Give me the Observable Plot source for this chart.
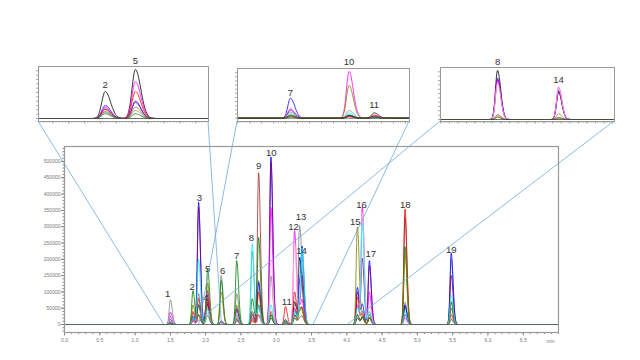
<!DOCTYPE html>
<html><head><meta charset="utf-8">
<script src="https://cdn.jsdelivr.net/npm/d3@7"></script>
<script src="https://cdn.jsdelivr.net/npm/@observablehq/plot@0.6"></script>
<style>
html,body{margin:0;padding:0;background:#fff;}
#wrap{position:relative;width:640px;height:360px;overflow:hidden;background:#fff;font-family:"Liberation Sans",Arial,sans-serif;}
#wrap svg{position:absolute;overflow:visible;}
</style></head><body><div id="wrap"></div>
<script>
// ---------------- DATA ----------------
const traceNames  = ["black","gray","blue","purple","magenta","pink","red","brown","green","olive","cyan"];
const traceColors = ["#111111","#8a8a8a","#2b2bd6","#9a60f0","#ff10ff","#ff90e8","#ff3a3a","#b85050","#1fa01f","#b0b020","#10d8ec"];

// main chromatogram: retention times (min) of the 19 numbered peaks
const peakTimes  = [1.50,1.82,1.90,2.01,2.03,2.22,2.44,2.66,2.75,2.925,3.13,3.26,3.33,3.37,4.15,4.22,4.32,4.825,5.48];
const peakLabels = ["1","2","3","4","5","6","7","8","9","10","11","12","13","14","15","16","17","18","19"];
// peak heights per trace (counts), same order as peakTimes
const hBlack   = [8000,20000,30000,50000,20000,10000,15000,20000,30000,20000,15000,70000,200000,60000,20000,25000,20000,55000,15000];
const hGray    = [76000,35000,95000,20000,90000,150000,95000,225000,135000,150000,8000,40000,297000,80000,60000,40000,40000,68000,200000];
const hBlue    = [25000,25000,375000,30000,45000,10000,50000,30000,130000,515000,10000,30000,120000,200000,114000,60000,196000,60000,219000];
const hPurple  = [15000,15000,360000,60000,40000,8000,45000,40000,60000,500000,8000,50000,60000,130000,100000,200000,180000,30000,150000];
const hMagenta = [38000,10000,60000,40000,70000,5000,30000,30000,30000,360000,5000,288000,50000,60000,60000,360000,100000,20000,30000];
const hPink    = [30000,8000,30000,20000,30000,5000,20000,20000,30000,200000,5000,250000,40000,40000,40000,340000,60000,15000,20000];
const hRed     = [5000,40000,80000,20000,60000,10000,20000,15000,100000,40000,55000,100000,40000,40000,84000,30000,30000,355000,68000];
const hBrown   = [3000,10000,30000,10000,20000,10000,10000,10000,467000,30000,10000,30000,20000,20000,30000,20000,20000,330000,50000];
const hGreen   = [3000,104000,60000,20000,157000,135000,196000,80000,268000,30000,5000,20000,50000,30000,30000,20000,20000,239000,70000];
const hOlive   = [3000,60000,30000,10000,120000,100000,60000,30000,60000,30000,5000,20000,40000,30000,300000,30000,20000,220000,30000];
const hCyan    = [10000,20000,200000,10000,40000,10000,30000,248000,60000,60000,10000,40000,60000,215000,50000,310000,40000,40000,89000];
const mainHeights = [hBlack,hGray,hBlue,hPurple,hMagenta,hPink,hRed,hBrown,hGreen,hOlive,hCyan];
// peak-number label anchor (time, counts)
const labelTimes  = [1.46,1.81,1.91,2.00,2.03,2.24,2.44,2.65,2.75,2.93,3.15,3.245,3.35,3.36,4.12,4.21,4.34,4.83,5.48];
const labelValues = [95000,116500,389500,82800,171800,165600,211600,266800,487700,527500,70500,300600,330000,227000,315900,368000,217800,368000,230000];

// axis tick values
const mainXTicks = [0.0,0.5,1.0,1.5,2.0,2.5,3.0,3.5,4.0,4.5,5.0,5.5,6.0,6.5];
const mainYTicks = [0,50000,100000,150000,200000,250000,300000,350000,400000,450000,500000];
const mainXDomain = [0,7];
const mainYDomain = [-24500,546000];
const xUnit = "min";

// inset 1: peaks 2 and 5
const in1Domain = [1.41,2.48];
const in1Times  = [1.83,2.02];
const in1Labels = ["2","5"];
const in1LabelValues = [34000,58000];
const in1Traces  = ["black","blue","magenta","red","purple","olive","gray","green"];
const in1Heights = [[27000,49000],[13000,17300],[11300,37000],[9700,27000],[9000,16000],[7000,11300],[6000,8000],[4700,4700]];

// inset 2: peaks 7, 10, 11
const in2Domain = [1.997,3.435];
const in2Times  = [2.44,2.93,3.14];
const in2Labels = ["7","10","11"];
const in2LabelValues = [25700,56700,13700];
const in2Traces  = ["blue","magenta","purple","gray","cyan","black","olive","red","green"];
const in2Heights = [[20000,3000,2000],[9300,46700,1000],[8000,2000,2000],[6000,7700,1000],[4300,5300,800],[3000,2500,5300],[2500,32700,800],[1500,1500,3000],[1500,3000,500]];

// inset 3: peaks 8 and 14
const in3Domain = [1.997,4.02];
const in3Times  = [2.66,3.37];
const in3Labels = ["8","14"];
const in3LabelValues = [58000,40000];
const in3Traces  = ["black","blue","purple","magenta","pink","red","olive","green"];
const in3Heights = [[49000,28000],[41300,29000],[40000,27000],[39000,32300],[36000,31000],[4700,2000],[3000,5700],[2300,1200]];

// times on the main baseline where the connector lines from each inset end (as drawn in the source)
const connectorTimes = [[1.41,2.23],[1.91,3.53],[1.85,4.02]];

// ---------------- RENDER ----------------
const wrap = document.getElementById("wrap");
const FONT = "Liberation Sans, Arial, sans-serif";

function shape(t, t0, s) {
  const d = t - t0;
  const sg = d < 0 ? s * 0.8 : s * 1.25;
  return Math.exp(-0.5 * (d / sg) * (d / sg));
}
function buildRows(names, heights, times, domain, step, sigma) {
  const rows = [];
  const n = Math.round((domain[1] - domain[0]) / step);
  names.forEach((name, k) => {
    for (let i = 0; i <= n; i++) {
      const t = domain[0] + i * step;
      let v = 0;
      times.forEach((t0, j) => { v += heights[k][j] * shape(t, t0, sigma); });
      rows.push({trace: name, t, v});
    }
  });
  return rows;
}
function place(el, left, top) {
  el.style.position = "absolute";
  el.style.left = left + "px";
  el.style.top = top + "px";
  wrap.appendChild(el);
}
const colorScale = {domain: traceNames, range: traceColors, legend: false};

// main plot
const mainRows = buildRows(traceNames, mainHeights, peakTimes, mainXDomain, 0.004, 0.021);
const mainLabels = peakLabels.map((l, i) => ({l, t: labelTimes[i], v: labelValues[i]}));
const M = {left: 64, right: 82, top: 146, bottom: 28};
const main = Plot.plot({
  width: 640, height: 360,
  marginLeft: M.left, marginRight: M.right, marginTop: M.top, marginBottom: M.bottom,
  style: {fontFamily: FONT, background: "transparent", color: "#777"},
  x: {domain: mainXDomain, label: null},
  y: {domain: mainYDomain, label: null},
  color: colorScale,
  marks: [
    Plot.axisX({ticks: d3.range(0, 7.001, 0.1), tickSize: 2, tickFormat: () => "", stroke: "#888"}),
    Plot.axisX({ticks: mainXTicks, tickSize: 3.5, tickFormat: d3.format(".1f"), fontSize: 5, tickPadding: 2, stroke: "#888", fill: "#777"}),
    Plot.axisY({ticks: d3.range(-20000, 546000, 10000), tickSize: 1.5, tickFormat: () => "", stroke: "#888"}),
    Plot.axisY({ticks: mainYTicks, tickSize: 3, tickFormat: d => String(d), fontSize: 5, tickPadding: 1, stroke: "#888", fill: "#777"}),
    Plot.text([xUnit], {frameAnchor: "bottom-right", text: d => d, dy: 9, dx: -4, fontSize: 5, fill: "#777", lineAnchor: "middle"}),
    Plot.line(mainRows, {x: "t", y: "v", z: "trace", stroke: "trace", strokeWidth: 0.8, clip: true}),
    Plot.ruleY([0], {stroke: "#555", strokeWidth: 0.8}),
    Plot.frame({stroke: "#999", strokeWidth: 1.2}),
    Plot.text(mainLabels, {x: "t", y: "v", text: "l", fontSize: 9.5, fill: "#333", lineAnchor: "middle"})
  ]
});
place(main, 0, 0);

// insets
const insetFrames = [
  {l: 38, t: 66, r: 208, b: 121, bottomPad: 3, top: 52000},
  {l: 237, t: 68, r: 409, b: 121, bottomPad: 3.3, top: 49700},
  {l: 440, t: 67, r: 614, b: 121, bottomPad: 2, top: 52000}
];
const insetData = [
  {domain: in1Domain, times: in1Times, labels: in1Labels, lv: in1LabelValues, traces: in1Traces, heights: in1Heights, sigma: 0.027},
  {domain: in2Domain, times: in2Times, labels: in2Labels, lv: in2LabelValues, traces: in2Traces, heights: in2Heights, sigma: 0.028},
  {domain: in3Domain, times: in3Times, labels: in3Labels, lv: in3LabelValues, traces: in3Traces, heights: in3Heights, sigma: 0.03}
];
const insets = [];
insetData.forEach((d, i) => {
  const f = insetFrames[i];
  const mL = 6, mR = 4, mT = 16, mB = 6;
  const h = f.b - f.t;
  const yMin = -f.bottomPad / (h - f.bottomPad) * f.top;
  const rows = buildRows(d.traces, d.heights, d.times, d.domain, 0.003, d.sigma);
  const labs = d.labels.map((l, j) => ({l, t: d.times[j], v: d.lv[j]}));
  const p = Plot.plot({
    width: (f.r - f.l) + mL + mR, height: h + mT + mB,
    marginLeft: mL, marginRight: mR, marginTop: mT, marginBottom: mB,
    style: {fontFamily: FONT, background: "transparent"},
    x: {domain: d.domain, label: null},
    y: {domain: [yMin, f.top], label: null},
    color: colorScale,
    marks: [
      Plot.axisX({ticks: d3.range(Math.ceil(d.domain[0] * 50) / 50, d.domain[1], 0.02), tickSize: 1.5, tickFormat: () => "", stroke: "#999"}),
      Plot.axisX({ticks: d3.range(Math.ceil(d.domain[0] * 10) / 10, d.domain[1], 0.1), tickSize: 2.5, tickFormat: () => "", stroke: "#999"}),
      Plot.axisY({ticks: d3.range(0, f.top, f.top / 12), tickSize: 2, tickFormat: () => "", stroke: "#aaa"}),
      Plot.line(rows, {x: "t", y: "v", z: "trace", stroke: "trace", strokeWidth: 0.8, clip: true}),
      Plot.ruleY([0], {stroke: "#444", strokeWidth: 0.8}),
      Plot.frame({stroke: "#999", strokeWidth: 1}),
      Plot.text(labs, {x: "t", y: "v", text: "l", fontSize: 9.5, fill: "#333", lineAnchor: "middle"})
    ]
  });
  place(p, f.l - mL, f.t - mT);
  insets.push({f, conn: connectorTimes[i]});
});

// connector lines from inset bottom corners to the main baseline
const sx = main.scale("x"), sy = main.scale("y");
const ns = "http://www.w3.org/2000/svg";
const ov = document.createElementNS(ns, "svg");
ov.setAttribute("width", 640); ov.setAttribute("height", 360);
ov.style.pointerEvents = "none";
place(ov, 0, 0);
const y0 = sy.apply(0);
insets.forEach(({f, conn}) => {
  [[f.l, conn[0]], [f.r, conn[1]]].forEach(([px, t]) => {
    const ln = document.createElementNS(ns, "line");
    ln.setAttribute("x1", px); ln.setAttribute("y1", f.b);
    ln.setAttribute("x2", sx.apply(t)); ln.setAttribute("y2", y0);
    ln.setAttribute("stroke", "#6fa8dc"); ln.setAttribute("stroke-width", 0.8);
    ov.appendChild(ln);
  });
});
</script></body></html>
